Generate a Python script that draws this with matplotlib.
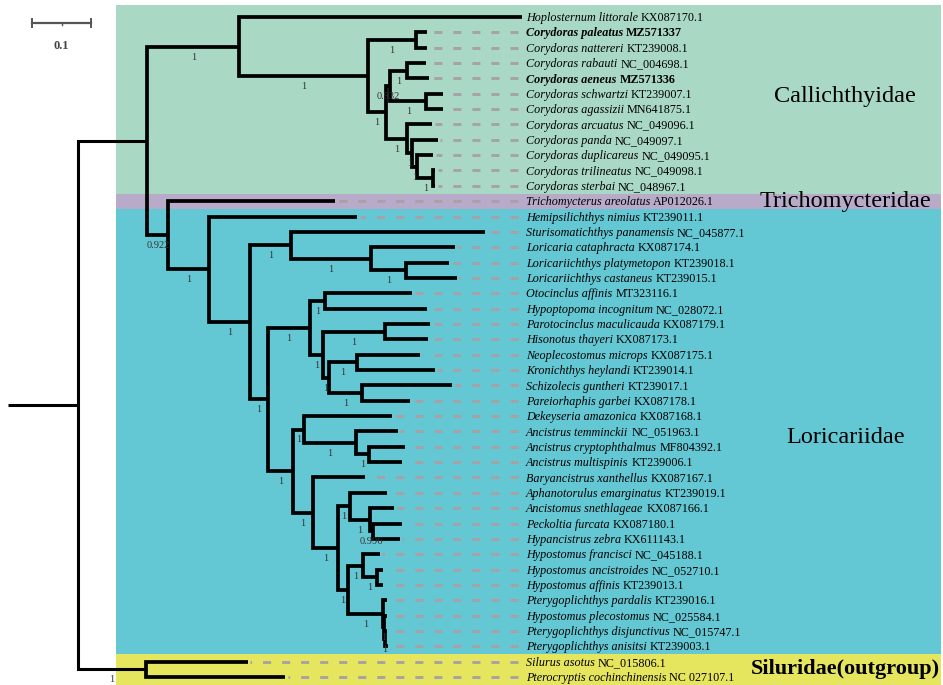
import matplotlib
matplotlib.use("Agg")
import matplotlib.pyplot as plt
from matplotlib.patches import Rectangle

plt.rcParams["font.family"] = ["Liberation Serif", "DejaVu Serif"]
plt.rcParams["lines.scale_dashes"] = False

# tip order top -> bottom
species = [
    "Hoplosternum littorale", "Corydoras paleatus", "Corydoras nattereri",
    "Corydoras rabauti", "Corydoras aeneus", "Corydoras schwartzi",
    "Corydoras agassizii", "Corydoras arcuatus", "Corydoras panda",
    "Corydoras duplicareus", "Corydoras trilineatus", "Corydoras sterbai",
    "Trichomycterus areolatus", "Hemipsilichthys nimius",
    "Sturisomatichthys panamensis", "Loricaria cataphracta",
    "Loricariichthys platymetopon", "Loricariichthys castaneus",
    "Otocinclus affinis", "Hypoptopoma incognitum", "Parotocinclus maculicauda",
    "Hisonotus thayeri", "Neoplecostomus microps", "Kronichthys heylandi",
    "Schizolecis guntheri", "Pareiorhaphis garbei", "Dekeyseria amazonica",
    "Ancistrus temminckii", "Ancistrus cryptophthalmus", "Ancistrus multispinis",
    "Baryancistrus xanthellus", "Aphanotorulus emarginatus",
    "Ancistomus snethlageae", "Peckoltia furcata", "Hypancistrus zebra",
    "Hypostomus francisci", "Hypostomus ancistroides", "Hypostomus affinis",
    "Pterygoplichthys pardalis", "Hypostomus plecostomus",
    "Pterygoplichthys disjunctivus", "Pterygoplichthys anisitsi",
    "Silurus asotus", "Pterocryptis cochinchinensis",
]
accessions = [
    "KX087170.1", "MZ571337", "KT239008.1", "NC_004698.1", "MZ571336",
    "KT239007.1", "MN641875.1", "NC_049096.1", "NC_049097.1", "NC_049095.1",
    "NC_049098.1", "NC_048967.1", "AP012026.1", "KT239011.1", "NC_045877.1",
    "KX087174.1", "KT239018.1", "KT239015.1", "MT323116.1", "NC_028072.1",
    "KX087179.1", "KX087173.1", "KX087175.1", "KT239014.1", "KT239017.1",
    "KX087178.1", "KX087168.1", "NC_051963.1", "MF804392.1", "KT239006.1",
    "KX087167.1", "KT239019.1", "KX087166.1", "KX087180.1", "KX611143.1",
    "NC_045188.1", "NC_052710.1", "KT239013.1", "KT239016.1", "NC_025584.1",
    "NC_015747.1", "KT239003.1", "NC_015806.1", "NC 027107.1",
]
bold_tips = [1, 4]  # sequences from this study

# newick pieces: tip numbers index into species, node labels = posterior probability
callichthyidae = ("(0:0.480,((1:0.020,2:0.020)1:0.080,(((3:0.031,4:0.036)1:0.029,"
                  "(5:0.029,6:0.029)1:0.061)0.932:0.008,(7:0.042,(8:0.044,(9:0.027,"
                  "(10:0.003,11:0.003)1:0.027)1:0.010)1:0.007)1:0.037)1:0.029)1:0.219)1:0.156")
loricariinae = "(14:0.329,(15:0.141,(16:0.073,17:0.086)1:0.059)1:0.137)1:0.069"
hypoptopomatinae = ("((18:0.147,19:0.173)1:0.025,((20:0.076,21:0.073)1:0.105,"
                    "((22:0.107,23:0.132)1:0.047,(24:0.153,25:0.081)1:0.056)1:0.010)1:0.022)1:0.071")
hypostominae = ("((26:0.149,(27:0.071,(28:0.061,29:0.056)1:0.022)1:0.088)1:0.019,"
                "(30:0.088,((31:0.064,(32:0.042,(33:0.049,34:0.046)0.996:0.005)1:0.034)1:0.020,"
                "((35:0.029,(36:0.010,37:0.010)1:0.024)1:0.025,(38:0.008,(39:0.005,"
                "(40:0.003,41:0.005)1:0.002)1:0.002)1:0.059)1:0.017)1:0.042)1:0.034)1:0.042")
loricariidae = f"(13:0.251,({loricariinae},({hypoptopomatinae},{hypostominae})1:0.031)1:0.069)1:0.069"
outgroup = "(42:0.173,43:0.236)1:0.115"
newick = f"(({callichthyidae},(12:0.283,{loricariidae})0.922:0.036):0.117,{outgroup}):0.119;"

families = ["Callichthyidae", "Trichomycteridae", "Loricariidae", "Siluridae(outgroup)"]
family_tips = [(0, 11), (12, 12), (13, 41), (42, 43)]
family_colors = ["#a9d9c5", "#b8aac9", "#64c8d4", "#e5e55e"]
family_label_y = [5.2, 12.0, 27.4, 42.45]


def parse(s):
    pos = 0

    def node():
        nonlocal pos
        n = {"children": [], "name": None, "label": None, "length": 0.0}
        if s[pos] == "(":
            pos += 1
            n["children"].append(node())
            while s[pos] == ",":
                pos += 1
                n["children"].append(node())
            pos += 1
        start = pos
        while s[pos] not in ":,);":
            pos += 1
        tok = s[start:pos]
        if n["children"]:
            n["label"] = tok or None
        else:
            n["name"] = int(tok)
        if s[pos] == ":":
            pos += 1
            start = pos
            while s[pos] not in ",);":
                pos += 1
            n["length"] = float(s[start:pos])
        return n

    return node()


def layout(n, px=0.0):
    n["px"] = px
    n["x"] = px + n["length"]
    if n["children"]:
        for c in n["children"]:
            layout(c, n["x"])
        n["y"] = (n["children"][0]["y"] + n["children"][-1]["y"]) / 2
    else:
        n["y"] = n["name"]


def walk(n):
    yield n
    for c in n["children"]:
        yield from walk(c)


tree = parse(newick)
layout(tree)

fig = plt.figure(figsize=(9.43, 6.85), dpi=100)
ax = fig.add_axes([0, 0, 1, 1])
ax.set_xlim(-8 / 590, 935 / 590)
ax.set_ylim(43.52, -1.107)
ax.axis("off")

# clade bands
band_left, band_right = 0.183, 1.581
for name, (a, b), col, ly in zip(families, family_tips, family_colors, family_label_y):
    top = a - 0.5 if a > 0 else -0.78
    ax.add_patch(Rectangle((band_left, top), band_right - band_left, b + 0.5 - top,
                           facecolor=col, edgecolor="none", zorder=0))
    outg = "outgroup" in name
    ax.text(1.419 if not outg else 1.42, ly, name, ha="center", va="center",
            fontsize=16 if outg else 17.5, fontweight="bold" if outg else "normal",
            zorder=3)

label_x = 0.878
lw = 2.7

# root stem
ax.plot([tree["px"], tree["x"]], [tree["y"], tree["y"]], color="black", lw=2.2,
        solid_capstyle="butt", zorder=2)

for n in walk(tree):
    if n["children"]:
        c1, c2 = n["children"][0], n["children"][-1]
        w = 2.2 if n is tree else lw
        ax.plot([c1["x"], n["x"], n["x"], c2["x"]], [c1["y"], c1["y"], c2["y"], c2["y"]],
                color="black", lw=w, solid_joinstyle="miter", solid_capstyle="butt", zorder=2)
        if n["label"] and n is not tree:
            ax.text((n["px"] + n["x"]) / 2, n["y"] + 0.68, n["label"], ha="center",
                    va="center", fontsize=7.5, color="#333333", zorder=3)
    else:
        i = n["name"]
        if label_x - n["x"] > 0.02:
            ax.plot([label_x - 0.0136, n["x"] + 0.004], [i, i], color="#a6a2a6", lw=2.1,
                    dashes=(5.8, 7.9), dash_capstyle="butt", zorder=1)

# tip labels: italic species + plain accession
fig.canvas.draw()
renderer = fig.canvas.get_renderer()
inv = ax.transData.inverted()
for i, (sp, acc) in enumerate(zip(species, accessions)):
    weight = "bold" if i in bold_tips else "normal"
    t = ax.text(label_x, i + 0.27, sp, style="italic", fontweight=weight,
                fontsize=8.7, va="baseline", ha="left", zorder=3)
    bb = t.get_window_extent(renderer)
    x_end = inv.transform((bb.x1, 0))[0]
    ax.text(x_end + 0.005, i + 0.27, acc, fontweight=weight, fontsize=8.7,
            va="baseline", ha="left", zorder=3)

# scale bar
sb_x, sb_y = 0.0407, 0.39
ax.plot([sb_x, sb_x + 0.1], [sb_y, sb_y], color="#555555", lw=1.6, zorder=3)
for tx in (sb_x, sb_x + 0.1):
    ax.plot([tx, tx], [sb_y - 0.28, sb_y + 0.28], color="#555555", lw=1.4, zorder=3)
ax.plot([sb_x + 0.05, sb_x + 0.05], [sb_y, sb_y + 0.15], color="#555555", lw=1.0, zorder=3)
ax.text(sb_x + 0.05, sb_y + 1.5, "0.1", ha="center", va="center", fontsize=9,
        fontweight="bold", color="#444444")

fig.savefig("out.png", dpi=100)
